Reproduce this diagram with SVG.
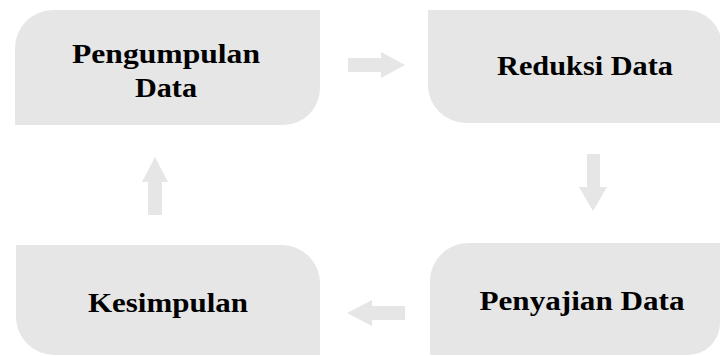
<svg xmlns="http://www.w3.org/2000/svg" width="720" height="356" viewBox="0 0 720 356">
<style>
.box{fill:#e6e6e6}
.arr{fill:#e6e6e6}
.lbl{font-family:"Liberation Serif","Times New Roman",serif;font-weight:bold;font-size:28px;fill:#000;text-anchor:middle}
</style>
<rect width="720" height="356" fill="#ffffff"/>
<g id="connectors">
<polygon class="arr" points="348,58 381,58 381,52 405,65 381,78 381,72 348,72"/>
<polygon class="arr" points="587,154 600,154 600,187 607,187 593,211 579,187 587,187"/>
<polygon class="arr" points="405,306 372,306 372,300 347,313 372,326 372,320 405,320"/>
<polygon class="arr" points="148,215 148,182 142,182 155,157 168,182 162,182 162,215"/>
</g>
<g id="node-pengumpulan">
<path class="box" d="M15,48 A38,38 0 0 1 53,10 H320 V88 A37,37 0 0 1 283,125 H15 Z"/>
<text class="lbl" x="166" y="63" textLength="188" lengthAdjust="spacingAndGlyphs">Pengumpulan</text>
<text class="lbl" x="166" y="97" textLength="62" lengthAdjust="spacingAndGlyphs">Data</text>
</g>
<g id="node-reduksi">
<path class="box" d="M428,10 H686 A36,36 0 0 1 722,46 V123 H466 A38,38 0 0 1 428,85 Z"/>
<text class="lbl" x="585" y="75" textLength="176" lengthAdjust="spacingAndGlyphs">Reduksi Data</text>
</g>
<g id="node-penyajian">
<path class="box" d="M430,281 A38,38 0 0 1 468,243 H720 V323 A32,32 0 0 1 688,355 H430 Z"/>
<text class="lbl" x="582" y="310" textLength="205" lengthAdjust="spacingAndGlyphs">Penyajian Data</text>
</g>
<g id="node-kesimpulan">
<path class="box" d="M16,245 H282 A38,38 0 0 1 320,283 V355 H54 A38,38 0 0 1 16,317 Z"/>
<text class="lbl" x="168" y="312" textLength="160" lengthAdjust="spacingAndGlyphs">Kesimpulan</text>
</g>
</svg>
